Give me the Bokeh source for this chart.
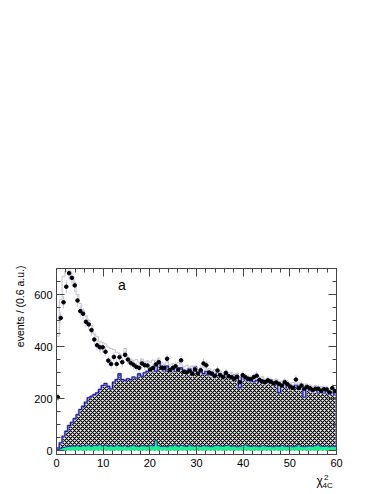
import numpy as np
from bokeh.plotting import figure
from bokeh.layouts import column
from bokeh.models import FixedTicker, LinearAxis, Label, Range1d, Title
from bokeh.core.properties import value
from bokeh.embed import file_html
from bokeh.resources import INLINE

bin_width = 0.6
n_bins = 100
x_ticks = [0, 10, 20, 30, 40, 50, 60]
y_ticks = [0, 200, 400, 600]

data_counts = [205, 510, 570, 630, 682, 664, 635, 577, 536, 526,
               495, 485, 463, 427, 405, 397, 397, 380, 346, 333,
               360, 333, 359, 340, 368, 350, 337, 330, 322, 318,
               335, 328, 327, 312, 318, 331, 340, 318, 318, 353,
               309, 318, 324, 312, 347, 303, 300, 306, 296, 312,
               296, 309, 335, 328, 300, 296, 287, 308, 290, 283,
               299, 286, 282, 276, 284, 263, 290, 282, 276, 274,
               283, 288, 272, 266, 263, 270, 265, 258, 262, 256,
               250, 263, 255, 246, 241, 273, 241, 250, 238, 245,
               240, 233, 238, 238, 230, 236, 235, 224, 240, 228]

mc_total = [440, 580, 670, 690, 690, 668, 646, 600, 565, 540,
            518, 500, 480, 448, 438, 420, 415, 410, 398, 392,
            388, 378, 372, 365, 392, 360, 352, 345, 350, 340,
            352, 338, 345, 340, 348, 335, 355, 340, 330, 342,
            330, 335, 325, 338, 330, 322, 328, 318, 325, 320,
            312, 318, 322, 308, 315, 305, 312, 300, 305, 298,
            302, 295, 300, 290, 298, 285, 292, 288, 280, 286,
            282, 290, 278, 285, 270, 278, 272, 268, 275, 262,
            268, 272, 265, 258, 262, 255, 260, 250, 256, 248,
            252, 245, 250, 242, 246, 238, 244, 236, 240, 235]

bkg_main = [10, 30, 55, 74, 96, 109, 123, 138, 158, 170,
            186, 203, 209, 215, 222, 235, 250, 258, 247, 237,
            263, 273, 295, 273, 270, 276, 273, 283, 279, 295,
            286, 299, 305, 309, 318, 305, 335, 325, 305, 325,
            312, 315, 305, 312, 318, 309, 302, 315, 305, 322,
            300, 308, 296, 305, 290, 300, 285, 298, 290, 282,
            295, 288, 280, 290, 284, 242, 285, 275, 268, 272,
            265, 270, 262, 268, 270, 262, 272, 258, 265, 222,
            250, 255, 242, 250, 245, 252, 240, 236, 205, 238,
            232, 228, 235, 225, 230, 222, 228, 218, 225, 215]

bkg_small = [4, 8, 12, 15, 16, 18, 17, 20, 16, 19,
             18, 22, 17, 20, 19, 23, 18, 21, 17, 19,
             16, 22, 18, 17, 20, 15, 18, 21, 17, 16,
             19, 18, 17, 20, 18, 38, 19, 16, 17, 15,
             19, 18, 22, 17, 20, 18, 16, 22, 18, 17,
             19, 16, 20, 18, 17, 15, 19, 20, 18, 17,
             19, 21, 17, 18, 15, 17, 19, 22, 18, 16,
             18, 17, 15, 19, 18, 16, 17, 15, 18, 16,
             20, 17, 16, 18, 15, 17, 24, 16, 15, 17,
             18, 16, 20, 22, 17, 16, 18, 15, 17, 16]

# x-axis title pieces: symbol, superscript, subscript
xlab_texts = ["χ", "2", "4C"]

edges = np.arange(n_bins + 1) * bin_width
centers = edges[:-1] + bin_width / 2


def step_outline(vals):
    xs = [edges[0]]
    ys = [0.0]
    for i, v in enumerate(vals):
        xs += [edges[i], edges[i + 1]]
        ys += [v, v]
    xs.append(edges[-1])
    ys.append(0.0)
    return xs, ys


p = figure(width=374, height=474, output_backend="svg", toolbar_location=None,
           x_range=Range1d(0, 60), y_range=Range1d(-15, 700),
           min_border_left=56, min_border_right=38, min_border_top=268,
           min_border_bottom=20)
p.background_fill_color = "white"
p.border_fill_color = "white"
p.outline_line_color = "#444444"
p.grid.visible = False

# main hatched background
bx, by = step_outline(bkg_main)
p.patch(bx, by, fill_color="white", line_color=None,
        hatch_pattern="diagonal_cross", hatch_color="black",
        hatch_scale=4, hatch_weight=1.2)
p.line(bx, by, line_color="#9999ee", line_width=2.2)
p.line(bx, by, line_color="#1a1a99", line_width=1.1)

# small green background
gx, gy = step_outline(bkg_small)
p.patch(gx, gy, fill_color="#19ef90", line_color=None)
p.line(gx, gy, line_color="#2233aa", line_width=1)

# total MC outline
tx, ty = step_outline(mc_total)
p.line(tx, ty, line_color="#c4c4c4", line_width=1)

# data points with errors
errs = np.sqrt(np.array(data_counts, dtype=float))
p.segment(x0=centers, y0=np.array(data_counts) - errs, x1=centers,
          y1=np.array(data_counts) + errs, line_color="#c8c8f0", line_width=1)
p.scatter(centers, data_counts, size=3.6, color="black")

# axes styling
for ax in [p.xaxis[0], p.yaxis[0]]:
    ax.axis_line_color = "#444444"
    ax.major_tick_line_color = "#444444"
    ax.minor_tick_line_color = "#444444"
    ax.major_tick_out = 0
    ax.minor_tick_out = 0
    ax.major_label_text_font = "Liberation Sans"
    ax.major_label_text_font_size = "11px"
    ax.major_label_text_color = "black"

p.xaxis[0].ticker = FixedTicker(ticks=x_ticks, minor_ticks=list(range(0, 61, 2)))
p.yaxis[0].ticker = FixedTicker(ticks=y_ticks, minor_ticks=list(range(0, 701, 50)))
p.xaxis[0].major_tick_in = 8
p.xaxis[0].minor_tick_in = 4
p.yaxis[0].major_tick_in = 8
p.yaxis[0].minor_tick_in = 4
p.xaxis[0].major_label_standoff = 4
p.yaxis[0].major_label_standoff = 4

top = LinearAxis(ticker=FixedTicker(ticks=x_ticks, minor_ticks=list(range(0, 61, 2))),
                 major_label_overrides={t: "" for t in x_ticks})
right = LinearAxis(ticker=FixedTicker(ticks=y_ticks, minor_ticks=list(range(0, 701, 50))),
                   major_label_overrides={t: "" for t in y_ticks})
for ax in [top, right]:
    ax.axis_line_color = "#444444"
    ax.major_tick_line_color = "#444444"
    ax.minor_tick_line_color = "#444444"
    ax.major_tick_out = 0
    ax.minor_tick_out = 0
    ax.major_tick_in = 8
    ax.minor_tick_in = 4
    ax.major_label_standoff = 0
p.add_layout(top, "above")
p.add_layout(right, "right")

p.add_layout(Label(x=13.2, y=638, text="a", text_font="Liberation Sans",
                   text_font_size="14px", text_color="black",
                   text_baseline="middle"))

ytitle = Title(text="events / (0.6 a.u.)", align="right", text_font="Liberation Sans",
               text_font_size="10.5px", text_font_style="normal", text_color="black",
               standoff=11, offset=-3)
p.add_layout(ytitle, "left")

# small strip below holding the x-axis title
p2 = figure(width=374, height=16, output_backend="svg", toolbar_location=None,
            x_range=Range1d(0, 60), y_range=Range1d(0, 16),
            min_border_left=56, min_border_right=38, min_border_top=0,
            min_border_bottom=0)
p2.axis.visible = False
p2.grid.visible = False
p2.outline_line_color = None
p2.text(x=[55.7], y=[9.5], text=[xlab_texts[0]], text_font=value("Liberation Sans"),
        text_font_size="12px", text_baseline="middle", text_color="black")
p2.text(x=[57.3], y=[13.5], text=[xlab_texts[1]], text_font=value("Liberation Sans"),
        text_font_size="8px", text_baseline="middle", text_color="black")
p2.text(x=[57.0], y=[5.5], text=[xlab_texts[2]], text_font=value("Liberation Sans"),
        text_font_size="8px", text_baseline="middle", text_color="black")

layout = column(p, p2, spacing=0)
open("out.html", "w").write(file_html(layout, INLINE))
